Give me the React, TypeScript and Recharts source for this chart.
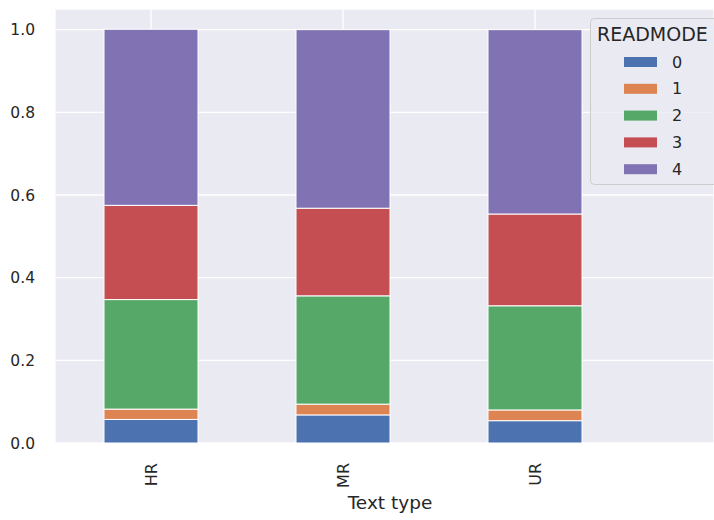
import { Bar, BarChart, CartesianGrid, Legend, XAxis, YAxis } from "recharts";

const textTypes = ["HR", "MR", "UR"];
const mode0 = [0.057, 0.068, 0.054];
const mode1 = [0.025, 0.026, 0.026];
const mode2 = [0.265, 0.262, 0.252];
const mode3 = [0.228, 0.212, 0.222];
const mode4 = [0.426, 0.432, 0.446];
const modeNames = ["0", "1", "2", "3", "4"];
const modeColors = ["#4C72B0", "#DD8452", "#55A868", "#C44E52", "#8172B3"];
const yTicks = [0, 0.2, 0.4, 0.6, 0.8, 1.0];

const FONT = "DejaVu Sans";
const INK = "#262626";

const series = [mode0, mode1, mode2, mode3, mode4];
const data = textTypes.map((t, i) => {
  const row: Record<string, string | number> = { type: t };
  series.forEach((s, k) => {
    row["m" + k] = s[i];
  });
  return row;
});

function XTick({ x, y, payload }: any) {
  return (
    <text
      x={x}
      y={y}
      transform={`rotate(-90, ${x}, ${y})`}
      textAnchor="end"
      dominantBaseline="central"
      fontFamily={FONT}
      fontSize={16}
      fill={INK}
    >
      {payload.value}
    </text>
  );
}

function XLabel() {
  return (
    <text x={390} y={509} textAnchor="middle" fontFamily={FONT} fontSize={18.5} fill={INK}>
      Text type
    </text>
  );
}

function LegendBox({ payload }: any) {
  const items = (payload ?? []).slice().sort((a: any, b: any) =>
    String(a.value).localeCompare(String(b.value)),
  );
  return (
    <svg width={124} height={168} style={{ display: "block" }}>
      <rect x={0.5} y={0.5} width={140} height={166} rx={4} fill="#EAEAF2" fillOpacity={0.8} stroke="#cccccc" />
      <text x={7} y={23} fontFamily={FONT} fontSize={19} fill={INK}>
        READMODE
      </text>
      {items.map((p: any, i: number) => {
        const cy = 44 + i * 26.8;
        return (
          <g key={p.value}>
            <rect x={34} y={cy - 5} width={33} height={10} fill={p.color} />
            <text x={82} y={cy} dominantBaseline="central" fontFamily={FONT} fontSize={16} fill={INK}>
              {p.value}
            </text>
          </g>
        );
      })}
    </svg>
  );
}

export default function App() {
  return (
    <div style={{ position: "absolute", left: 0, top: 0, width: 714, height: 520, overflow: "hidden", background: "#fff" }}>
      <BarChart width={714} height={520} data={data} margin={{ top: 9, right: 0, bottom: 0, left: 0 }}>
        <CartesianGrid fill="#EAEAF2" stroke="#ffffff" strokeWidth={1.3} />
        <XAxis
          dataKey="type"
          height={77}
          padding={{ left: 0, right: 83 }}
          axisLine={false}
          tickLine={false}
          tickSize={0}
          tickMargin={20}
          interval={0}
          tick={<XTick />}
          label={<XLabel />}
        />
        <YAxis
          width={55}
          domain={[0, 1.05]}
          ticks={yTicks}
          tickFormatter={(v: number) => v.toFixed(1)}
          axisLine={false}
          tickLine={false}
          tickSize={0}
          tickMargin={20}
          tick={{ fontFamily: FONT, fontSize: 15.5, fill: INK }}
        />
        <Legend
          layout="vertical"
          align="center"
          verticalAlign="middle"
          wrapperStyle={{ left: 590, top: 18, width: 124, height: 168 }}
          content={<LegendBox />}
        />
        {modeNames.map((name, k) => (
          <Bar
            key={name}
            dataKey={"m" + k}
            name={name}
            stackId="a"
            fill={modeColors[k]}
            stroke="#ffffff"
            strokeWidth={1}
            barSize={94}
            isAnimationActive={false}
          />
        ))}
      </BarChart>
    </div>
  );
}
